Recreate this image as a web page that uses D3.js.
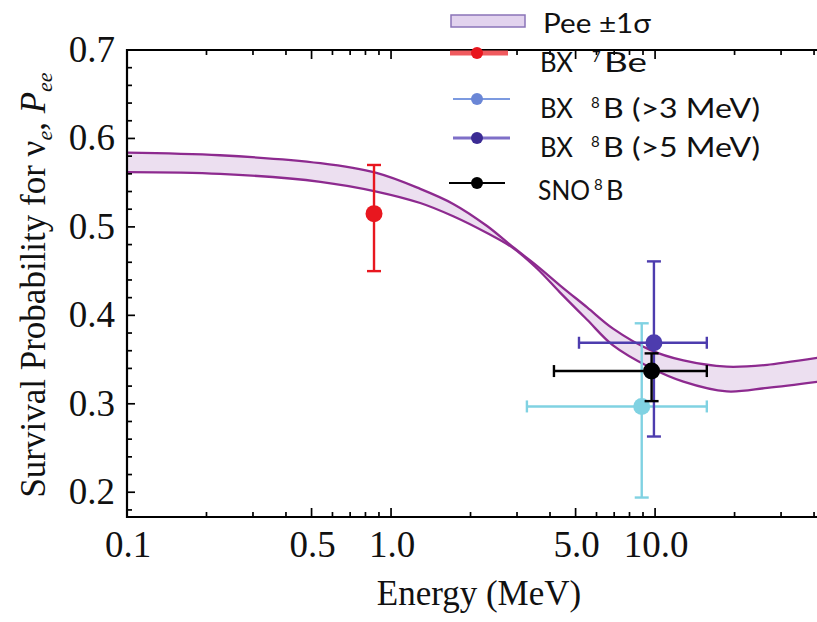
<!DOCTYPE html>
<html>
<head>
<meta charset="utf-8">
<script src="https://cdn.jsdelivr.net/npm/d3@7"></script>
<style>
  body { margin: 0; background: #fff; }
  svg { display: block; }
</style>
</head>
<body>
<svg id="chart" width="817" height="622"></svg>
<script>
// Pee ±1σ band: neutrino energy (MeV) with upper / lower edges
const bandEnergy = [0.1, 0.225, 0.54, 0.88, 1.29, 1.72, 2.31, 2.9, 3.57, 4.36, 5.53, 6.93, 9.57, 12.8, 18.7, 26.6, 41.4];
const bandUpper  = [0.584, 0.581, 0.572, 0.561, 0.543, 0.526, 0.501, 0.477, 0.456, 0.434, 0.409, 0.385, 0.361, 0.349, 0.342, 0.344, 0.352];
const bandLower  = [0.562, 0.560, 0.551, 0.540, 0.527, 0.512, 0.493, 0.476, 0.453, 0.426, 0.395, 0.366, 0.341, 0.325, 0.314, 0.318, 0.325];

// Measurements (drawn in this order)
const pointNames  = ["BX 7Be", "BX 8B (>3 MeV)", "BX 8B (>5 MeV)", "SNO 8B"];
const pointEnergy = [0.862, 8.9, 9.9, 9.7];
const pointProb   = [0.515, 0.297, 0.369, 0.337];
const probHigh    = [0.570, 0.391, 0.461, 0.357];
const probLow     = [0.450, 0.194, 0.263, 0.303];
const energyLow   = [null, 3.27, 5.15, 4.14];
const energyHigh  = [null, 15.7, 15.7, 15.7];
const pointColors = ["#e8171f", "#80d2e2", "#4d3cae", "#000000"];

// Axis ticks
const xMajorTicks  = [0.1, 0.5, 1, 5, 10];
const xTickLabels  = ["0.1", "0.5", "1.0", "5.0", "10.0"];
const xMinorTicks  = [0.2, 0.3, 0.4, 0.6, 0.7, 0.8, 0.9, 2, 3, 4, 6, 7, 8, 9, 20, 30, 40];
const yMajorTicks  = [0.2, 0.3, 0.4, 0.5, 0.6, 0.7];
const yTickLabels  = ["0.2", "0.3", "0.4", "0.5", "0.6", "0.7"];
const yMinorTicks  = [0.18, 0.22, 0.24, 0.26, 0.28, 0.32, 0.34, 0.36, 0.38, 0.42, 0.44, 0.46, 0.48,
                      0.52, 0.54, 0.56, 0.58, 0.62, 0.64, 0.66, 0.68];

const svg = d3.select("#chart");
const plotLeft = 127, plotRight = 818, plotTop = 50, plotBottom = 517;

const x = d3.scaleLog().domain([0.1, 41.4]).range([plotLeft, plotRight]);
const y = d3.scaleLinear().domain([0.172, 0.7]).range([plotBottom, plotTop]);

const serif = "'Liberation Serif', 'Times New Roman', serif";
const sans = "Lato, 'Open Sans', sans-serif";

svg.append("defs").append("clipPath").attr("id", "plotClip")
  .append("rect").attr("x", plotLeft).attr("y", plotTop)
  .attr("width", plotRight - plotLeft).attr("height", plotBottom - plotTop);

const plot = svg.append("g").attr("clip-path", "url(#plotClip)");

// band
const band = bandEnergy.map((e, i) => ({ e, hi: bandUpper[i], lo: bandLower[i] }));
const smooth = d3.curveCatmullRom.alpha(0.5);
plot.append("path")
  .datum(band)
  .attr("fill", "#ecdff0")
  .attr("d", d3.area().x(d => x(d.e)).y0(d => y(d.lo)).y1(d => y(d.hi)).curve(smooth));
["hi", "lo"].forEach(k => {
  plot.append("path")
    .datum(band)
    .attr("fill", "none")
    .attr("stroke", "#8d2a8f")
    .attr("stroke-width", 2.3)
    .attr("d", d3.line().x(d => x(d.e)).y(d => y(d[k])).curve(smooth));
});

// measurements with error bars
const cap = 7;
pointNames.forEach((name, i) => {
  const g = plot.append("g").attr("stroke", pointColors[i]).attr("fill", pointColors[i]).attr("stroke-width", 2.4);
  const cx = x(pointEnergy[i]);
  g.append("line").attr("x1", cx).attr("x2", cx).attr("y1", y(probHigh[i])).attr("y2", y(probLow[i]));
  [probHigh[i], probLow[i]].forEach(v => {
    g.append("line").attr("x1", cx - cap).attr("x2", cx + cap).attr("y1", y(v)).attr("y2", y(v));
  });
  if (energyLow[i] !== null) {
    const cy = y(pointProb[i]);
    g.append("line").attr("x1", x(energyLow[i])).attr("x2", x(energyHigh[i])).attr("y1", cy).attr("y2", cy);
    [energyLow[i], energyHigh[i]].forEach(v => {
      g.append("line").attr("x1", x(v)).attr("x2", x(v)).attr("y1", cy - cap + 1).attr("y2", cy + cap - 1);
    });
  }
  g.append("circle").attr("cx", cx).attr("cy", y(pointProb[i])).attr("r", 8.5).attr("stroke", "none");
});

// frame and ticks
const axes = svg.append("g").attr("stroke", "#000");
axes.append("path")
  .attr("fill", "none").attr("stroke-width", 2.2)
  .attr("d", `M${plotRight + 5},${plotTop}H${plotLeft}V${plotBottom}H${plotRight + 5}`);

function xTick(v, len) {
  axes.append("line").attr("x1", x(v)).attr("x2", x(v)).attr("y1", plotBottom).attr("y2", plotBottom - len).attr("stroke-width", 1.7);
  axes.append("line").attr("x1", x(v)).attr("x2", x(v)).attr("y1", plotTop).attr("y2", plotTop + len).attr("stroke-width", 1.7);
}
function yTick(v, len) {
  axes.append("line").attr("x1", plotLeft).attr("x2", plotLeft + len).attr("y1", y(v)).attr("y2", y(v)).attr("stroke-width", 1.7);
}
xMajorTicks.forEach(v => xTick(v, 9));
xMinorTicks.forEach(v => xTick(v, 5));
yMajorTicks.forEach(v => yTick(v, 8));
yMinorTicks.forEach(v => yTick(v, 5));

// tick labels
svg.append("g").selectAll("text").data(xMajorTicks).join("text")
  .attr("x", d => x(d) + 1).attr("y", 557)
  .attr("text-anchor", "middle")
  .attr("font-family", serif).attr("font-size", 37).attr("fill", "#111")
  .text((d, i) => xTickLabels[i]);
svg.append("g").selectAll("text").data(yMajorTicks).join("text")
  .attr("x", 115).attr("y", d => y(d) + 12)
  .attr("text-anchor", "end")
  .attr("font-family", serif).attr("font-size", 37).attr("fill", "#111")
  .text((d, i) => yTickLabels[i]);

// axis titles
svg.append("text")
  .attr("x", 479).attr("y", 605)
  .attr("text-anchor", "middle")
  .attr("font-family", serif).attr("font-size", 35).attr("fill", "#111")
  .text("Energy (MeV)");

const yTitle = svg.append("text")
  .attr("transform", "translate(45,285) rotate(-90)")
  .attr("text-anchor", "middle")
  .attr("font-family", serif).attr("font-size", 35).attr("fill", "#111");
yTitle.append("tspan").text("Survival Probability for ν");
yTitle.append("tspan").attr("font-size", 22).attr("font-style", "italic").attr("dy", 7).text("e");
yTitle.append("tspan").attr("dy", -7).text(", ");
yTitle.append("tspan").attr("font-style", "italic").text("P");
yTitle.append("tspan").attr("font-size", 22).attr("font-style", "italic").attr("dy", 7).text("ee");

// legend
const leg = svg.append("g").attr("font-family", sans).attr("font-size", 27).attr("fill", "#111");
leg.append("rect").attr("x", 451).attr("y", 15).attr("width", 74).attr("height", 12)
  .attr("fill", "#e2d3ee").attr("stroke", "#8a74b8").attr("stroke-width", 1.5);
leg.append("text").attr("x", 543).attr("y", 33)
  .attr("textLength", 108).attr("lengthAdjust", "spacingAndGlyphs").text("Pee ±1σ");

const legRows = [
  { lineY: 53, textY: 72, x1: 450, x2: 508, line: "#f05a5e", lw: 5, dot: "#e8151d",
    head: "BX", headX: 540, headW: 33, supX: 592, sup: "7", rest: "Be", restX: 604, restW: 43 },
  { lineY: 99, textY: 118, x1: 453, x2: 510, line: "#7c9ae0", lw: 2, dot: "#6a86d6",
    head: "BX", headX: 540, headW: 33, supX: 591, sup: "8", rest: "B (>3 MeV)", restX: 603, restW: 157 },
  { lineY: 138, textY: 157, x1: 453, x2: 510, line: "#7e6fc8", lw: 3, dot: "#3b2b94",
    head: "BX", headX: 540, headW: 33, supX: 591, sup: "8", rest: "B (>5 MeV)", restX: 603, restW: 157 },
  { lineY: 183, textY: 200, x1: 449, x2: 505, line: "#000000", lw: 2, dot: "#000000",
    head: "SNO", headX: 538, headW: 52, supX: 594, sup: "8", rest: "B", restX: 606, restW: 0 }
];
legRows.forEach(r => {
  leg.append("line").attr("x1", r.x1).attr("x2", r.x2).attr("y1", r.lineY).attr("y2", r.lineY)
    .attr("stroke", r.line).attr("stroke-width", r.lw);
  leg.append("circle").attr("cx", 477).attr("cy", r.lineY).attr("r", 6).attr("fill", r.dot);
  leg.append("text").attr("x", r.headX).attr("y", r.textY)
    .attr("textLength", r.headW).attr("lengthAdjust", "spacingAndGlyphs").text(r.head);
  leg.append("text").attr("x", r.supX).attr("y", r.textY - 10).attr("font-size", 15).text(r.sup);
  const rest = leg.append("text").attr("x", r.restX).attr("y", r.textY).text(r.rest);
  if (r.restW) rest.attr("textLength", r.restW).attr("lengthAdjust", "spacingAndGlyphs");
});
</script>
</body>
</html>
